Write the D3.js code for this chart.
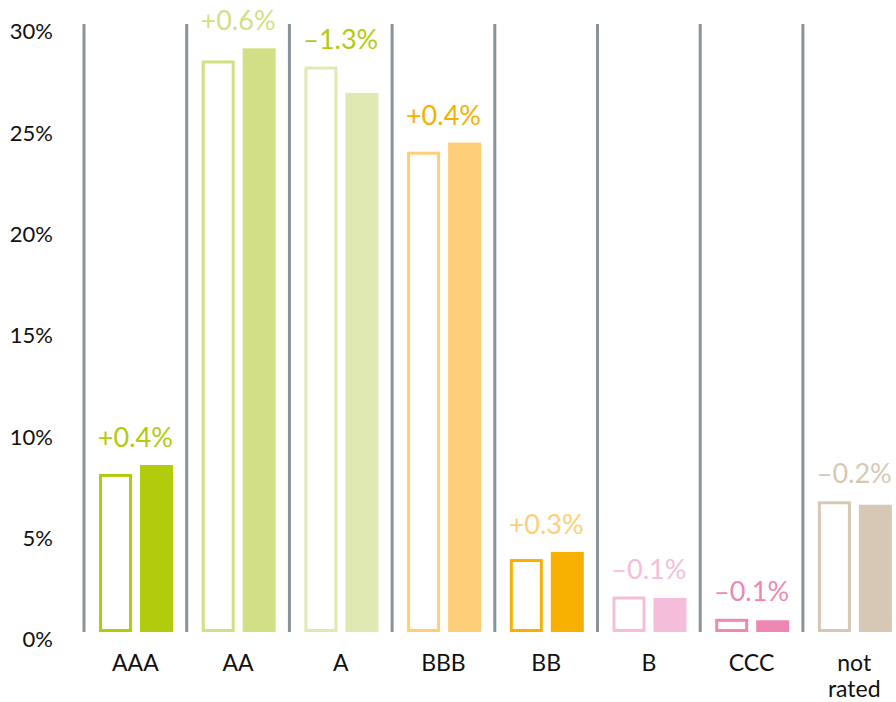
<!DOCTYPE html>
<html>
<head>
<meta charset="utf-8">
<script src="https://cdn.jsdelivr.net/npm/d3@7"></script>
<style>
  html, body { margin: 0; padding: 0; background: #fff; }
  svg { display: block; font-family: Lato, "Open Sans", sans-serif; }
</style>
</head>
<body>
<div id="chart"></div>
<script>
// rating buckets, previous vs current share of portfolio (%)
const categories = ['AAA', 'AA', 'A', 'BBB', 'BB', 'B', 'CCC', 'not rated'];
const previous = [7.8, 28.2, 27.9, 23.7, 3.6, 1.75, 0.65, 6.45];
const current = [8.24, 28.8, 26.6, 24.15, 3.95, 1.68, 0.58, 6.28];
const changes = ['+0.4%', '+0.6%', '\u20131.3%', '+0.4%', '+0.3%', '\u20130.1%', '\u20130.1%', '\u20130.2%'];
const yTicks = [0, 5, 10, 15, 20, 25, 30];

const barColors = ['#b2cb0c', '#d3df84', '#e1e9b2', '#fecf78', '#f8b000', '#f4bdd9', '#ee88b3', '#d6c8b5'];
const labelColors = ['#b2cb0c', '#d3df84', '#b2cb0c', '#f8b000', '#fecf78', '#f4bdd9', '#ee88b3', '#d6c8b5'];

const W = 896, H = 702;
const STEP = 102.7;
const X0 = 84;

const svg = d3.select('#chart')
    .append('svg')
    .attr('width', W)
    .attr('height', H);

const x = d3.scaleBand()
    .domain(categories)
    .range([X0, X0 + STEP * categories.length])
    .padding(0);

const inner = d3.scaleBand()
    .domain(['prev', 'curr'])
    .range([15, 89])
    .paddingInner(0.195)
    .paddingOuter(0);

const y = d3.scaleLinear()
    .domain([0, 30])
    .range([632, 24]);

// Y axis labels (no line, no ticks)
const yAxis = svg.append('g')
    .attr('transform', 'translate(56,0)')
    .call(d3.axisLeft(y).tickValues(yTicks).tickSize(0).tickPadding(3).tickFormat(d => d + '%'));
yAxis.select('.domain').remove();
yAxis.selectAll('text')
    .attr('dy', '0.68em')
    .attr('font-size', 22)
    .attr('font-family', 'Lato, "Open Sans", sans-serif')
    .attr('fill', '#111');

// grey separators
svg.append('g')
    .selectAll('line')
    .data(categories)
    .join('line')
    .attr('x1', d => x(d))
    .attr('x2', d => x(d))
    .attr('y1', y(0))
    .attr('y2', y(30))
    .attr('stroke', '#8a9399')
    .attr('stroke-width', 3);

const groups = svg.append('g')
    .selectAll('g')
    .data(categories)
    .join('g')
    .attr('transform', d => `translate(${x(d)},0)`);

// previous (outlined) bars
groups.append('rect')
    .attr('x', inner('prev') + 1.5)
    .attr('width', inner.bandwidth() - 3)
    .attr('y', (d, i) => y(previous[i]) + 1.5)
    .attr('height', (d, i) => y(0) - y(previous[i]) - 3)
    .attr('fill', '#fff')
    .attr('stroke', (d, i) => barColors[i])
    .attr('stroke-width', 3);

// current (filled) bars
groups.append('rect')
    .attr('x', inner('curr'))
    .attr('width', inner.bandwidth())
    .attr('y', (d, i) => y(current[i]))
    .attr('height', (d, i) => y(0) - y(current[i]))
    .attr('fill', (d, i) => barColors[i]);

// change labels
groups.append('text')
    .attr('x', x.bandwidth() / 2)
    .attr('y', (d, i) => y(Math.max(previous[i], current[i])) - 18)
    .attr('text-anchor', 'middle')
    .attr('font-size', 27)
    .attr('font-weight', 400)
    .attr('fill', (d, i) => labelColors[i])
    .text((d, i) => changes[i]);

// category labels
const catLabels = groups.append('text')
    .attr('x', x.bandwidth() / 2)
    .attr('y', 671)
    .attr('text-anchor', 'middle')
    .attr('font-size', 23)
    .attr('fill', '#111');

catLabels.selectAll('tspan')
    .data(d => d.split(' '))
    .join('tspan')
    .attr('x', x.bandwidth() / 2)
    .attr('dy', (d, i) => i === 0 ? 0 : 26)
    .text(d => d);
</script>
</body>
</html>
